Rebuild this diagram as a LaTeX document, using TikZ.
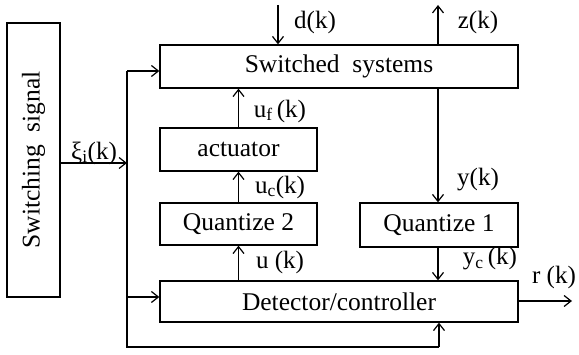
\documentclass[tikz,border=0pt]{standalone}
\usepackage{fontspec}
\setmainfont{Liberation Serif}
\usetikzlibrary{arrows.meta}
\begin{document}
\begin{tikzpicture}[x=1pt,y=-1pt,
  box/.style={draw, line width=1.3pt, inner sep=0pt, font=\fontsize{25.5}{28}\selectfont},
  lbl/.style={inner sep=0pt, font=\fontsize{25}{28}\selectfont},
  conn/.style={line width=1.3pt},
  arr/.style={conn, -{Straight Barb[length=7pt,width=11pt,line width=1.2pt]}}]
\useasboundingbox (0,0) rectangle (579,355);
\node[box, minimum width=53, minimum height=274] (sig) at (33.5,160) {\rotatebox{90}{Switching~ signal}};
\node[box, minimum width=358, minimum height=43] (sw) at (339,66.5) {Switched~~systems};
\node[box, minimum width=157, minimum height=43] (act) at (238.5,149.5) {actuator};
\node[box, minimum width=157, minimum height=42] (q2) at (238.5,224) {Quantize 2};
\node[box, minimum width=158, minimum height=44] (q1) at (439,225) {Quantize 1};
\node[box, minimum width=358, minimum height=41] (det) at (339,301.5) {Detector/controller};
\coordinate (j) at (127,163);
\coordinate (jt) at (127,71);
\coordinate (jd) at (127,297);
\coordinate (jb) at (127,347);
\coordinate (b2) at (439,347);
\coordinate (dtop) at (278,5);
\coordinate (ztop) at (438,5);
\coordinate (rend) at (572,301);
% signal to junction
\draw[arr] (sig.east |- j) -- (j);
\draw[conn] (jt) -- (jb) -- (b2);
\draw[arr] (jt) -- (sw.west |- jt);
\draw[arr] (jd) -- (det.west |- jd);
\draw[arr] (b2) -- (det.south -| b2);
% d and z
\draw[arr] (dtop) -- (sw.north -| dtop);
\draw[arr] (sw.north -| ztop) -- (ztop);
% y path
\draw[arr] (sw.south -| ztop) -- (q1.north -| ztop);
\draw[arr] (q1.south -| ztop) -- (det.north -| ztop);
% u path
\draw[arr] (det.north -| act) -- (q2.south);
\draw[arr] (q2.north) -- (act.south);
\draw[arr] (act.north) -- (sw.south -| act);
% r
\draw[arr] (det.east |- rend) -- (rend);
% labels
\node[lbl] (ld) at (315,22) {d(k)};
\node[lbl] (lz) at (478,22) {z(k)};
\node[lbl] (luf) at (280,111) {u\textsubscript{f}\,(k)};
\node[lbl] (lxi) at (94,153) {ξ\textsubscript{i}(k)};
\node[lbl] (ly) at (478,180) {y(k)};
\node[lbl] (luc) at (280,187) {u\textsubscript{c}(k)};
\node[lbl] (lu) at (280,262) {u (k)};
\node[lbl] (lyc) at (490,259) {y\textsubscript{c}\,(k)};
\node[lbl] (lr) at (554,277) {r (k)};
\end{tikzpicture}
\end{document}
